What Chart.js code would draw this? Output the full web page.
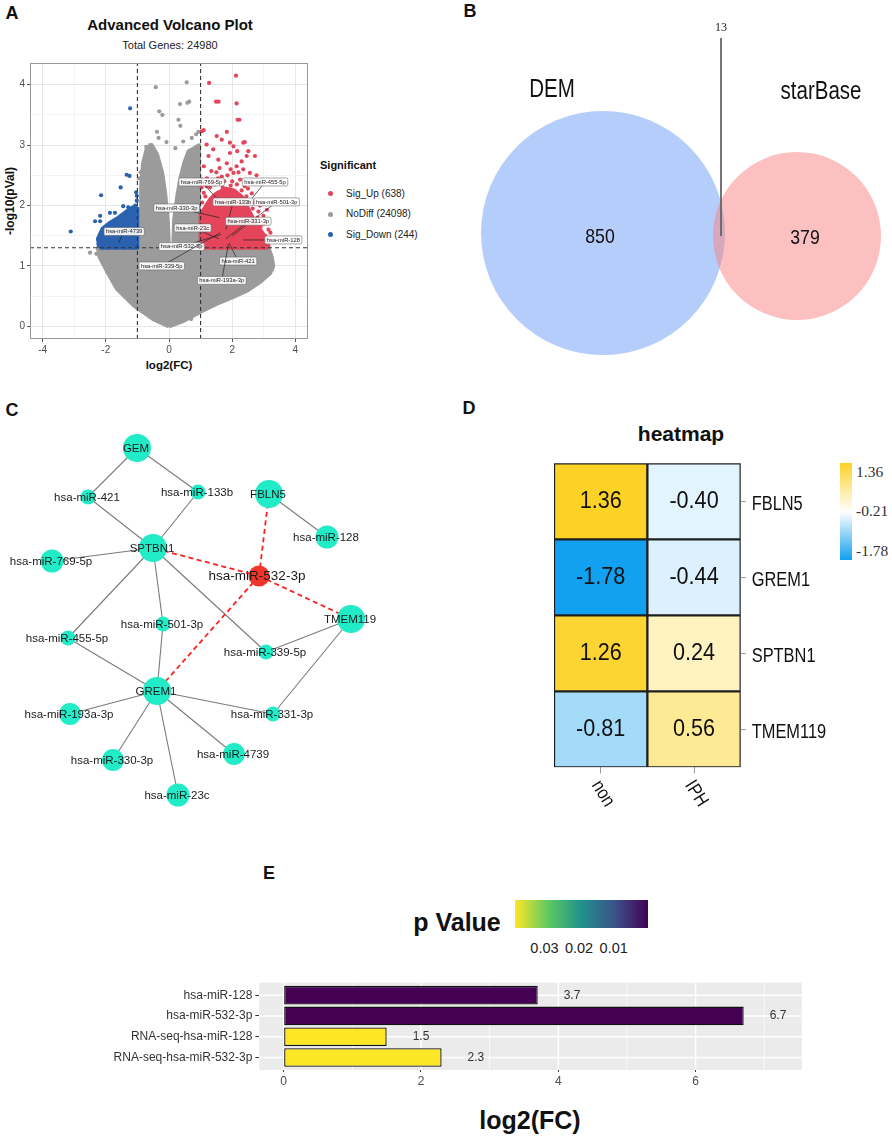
<!DOCTYPE html>
<html>
<head>
<meta charset="utf-8">
<script src="https://cdn.jsdelivr.net/npm/chart.js@4.4.1/dist/chart.umd.min.js"></script>
<style>
  body { margin: 0; width: 892px; height: 1138px; position: relative; overflow: hidden; background: #fff;
         font-family: "Liberation Sans", Arial, sans-serif; color: #111; }
  canvas { position: absolute; }
  .t { position: absolute; white-space: nowrap; transform: translate(-50%, -50%); line-height: 1; }
  .tl { position: absolute; white-space: nowrap; transform: translateY(-50%); line-height: 1; }
  .b { font-weight: bold; }
  .letter { font-weight: bold; font-size: 18px; }
  .serif { font-family: "Liberation Serif", "Times New Roman", serif; color: #333; }
</style>
</head>
<body>
<!-- panel letters and titles -->
<div class="t letter" style="left:12px;top:13px">A</div>
<div class="t letter" style="left:470px;top:11px">B</div>
<div class="t letter" style="left:12px;top:410px">C</div>
<div class="t letter" style="left:469px;top:408px">D</div>
<div class="t letter" style="left:269px;top:873px">E</div>

<div class="t b" style="left:170px;top:24px;font-size:15px">Advanced Volcano Plot</div>
<div class="t" id="totA" style="left:170px;top:45px;font-size:11px;color:#222"></div>
<div class="t b" style="left:10px;top:201px;font-size:12px;transform:translate(-50%,-50%) rotate(-90deg)">-log10(pVal)</div>
<div class="t b" style="left:169px;top:366px;font-size:11.5px">log2(FC)</div>
<div class="tl b" style="left:320px;top:165px;font-size:11px">Significant</div>
<div id="legA"></div>

<div class="t b" style="left:681px;top:433px;font-size:21px">heatmap</div>
<div style="position:absolute;left:840px;top:463px;width:12px;height:97px;background:linear-gradient(to bottom, rgb(252,210,38), #ffffff, rgb(18,160,240))"></div>
<div id="legD"></div>

<div class="t b" style="left:457px;top:922px;font-size:25px">p Value</div>
<div style="position:absolute;left:515px;top:900px;width:133px;height:28px;background:linear-gradient(to right, #fde725, #5ec962, #21918c, #3b528b, #440154)"></div>
<div id="legE"></div>
<div class="t b" style="left:530px;top:1120px;font-size:25px">log2(FC)</div>

<canvas id="cA" width="312" height="315" style="left:0;top:55px"></canvas>
<canvas id="cB" width="442" height="365" style="left:450px;top:0"></canvas>
<canvas id="cC" width="430" height="420" style="left:0;top:400px"></canvas>
<canvas id="cD" width="452" height="440" style="left:440px;top:400px"></canvas>
<canvas id="cE" width="892" height="178" style="left:0;top:960px"></canvas>

<script>
// ---------- A: volcano ----------
const volcanoGroups = ['Sig_Up', 'NoDiff', 'Sig_Down'];
const volcanoCounts = [638, 24098, 244];
const totalGenes = 24980;
const fcCut = 1;
const pCut = 1.3;
// edge of the solid NoDiff cloud [log2FC, -log10 p]
const noDiffOutline = [[0,0],[0.5,0.1],[1.0,0.24],[1.5,0.37],[2.0,0.48],[2.5,0.6],[2.9,0.74],[3.2,0.88],[3.3,1.0],
  [3.25,1.15],[3.15,1.3],[0.95,1.3],[0.95,3.0],[0.8,2.95],[0.62,2.9],[0.48,2.7],[0.36,2.45],[0.26,2.15],[0.16,1.75],
  [0.13,1.2],[0.11,0.7],[0.08,0.48],[0.04,0.65],[0.01,1.2],[-0.04,1.75],[-0.12,2.2],[-0.22,2.55],[-0.38,2.85],
  [-0.55,3.0],[-0.7,2.95],[-0.82,2.7],[-0.88,2.35],[-0.88,1.3],[-2.25,1.3],[-2.2,1.15],[-1.95,0.9],[-1.65,0.62],
  [-1.1,0.34],[-0.5,0.12],[0,0]];
const upOutline = [[1.0,1.3],[3.1,1.3],[3.12,1.42],[2.95,1.55],[2.75,1.7],[2.6,1.85],[2.45,2.0],[2.3,2.15],[2.05,2.25],
  [1.8,2.28],[1.5,2.2],[1.3,2.1],[1.12,1.95],[1.0,1.85],[1.0,1.3]];
const downOutline = [[-2.2,1.3],[-1.0,1.3],[-1.0,1.95],[-1.15,1.97],[-1.35,1.9],[-1.6,1.8],[-1.85,1.72],[-2.1,1.62],
  [-2.25,1.45],[-2.2,1.3]];
const noDiffPts = [[0.56,4.04],[-0.42,3.96],[-0.31,3.56],[-0.21,3.5],[0.35,3.68],[0.64,3.72],[0.58,3.7],[0.3,3.42],
  [0.36,3.32],[-0.38,3.22],[-0.33,3.12],[-0.6,3.0],[-0.72,2.97],[0.72,3.12],[0.86,3.18],[0.93,3.22],[0.45,3.06],
  [0.2,2.95],[-0.08,3.05],[-0.9,2.55],[-0.95,2.45],[-2.5,1.22],[3.09,0.89],[3.2,0.92],[3.27,0.95],[3.05,0.82],
  [-1.13,0.37],[-1.25,0.42],[0.7,0.12],[-2.3,1.2]];
const upPts = [[1.27,4.03],[2.12,4.15],[1.49,3.72],[1.57,3.72],[2.14,3.69],[2.17,3.42],[2.23,3.42],[1.04,3.23],
  [1.1,3.25],[1.51,3.15],[1.83,3.22],[2.35,3.04],[2.4,3.05],[2.04,2.98],[1.93,3.04],[1.67,3.09],[1.19,3.01],[1.4,2.93],
  [1.93,2.87],[2.16,2.9],[2.46,2.82],[2.72,2.82],[2.51,2.9],[1.25,2.82],[1.56,2.76],[1.83,2.7],[2.14,2.65],[2.3,2.73],
  [2.77,2.5],[2.56,2.54],[1.1,2.65],[1.34,2.57],[1.04,2.43],[3.1,1.93],[2.99,1.83],[3.15,1.6],[3.21,1.55],[3.15,1.33],
  [2.99,1.36],[2.88,1.44],[2.77,1.55],[2.67,1.77],[2.51,1.88],[2.88,2.0],[1.1,2.21],[1.19,2.32],[1.4,2.4],[1.67,2.48],
  [2.04,2.54],[2.25,2.43],[2.4,2.32],[2.62,2.2],[2.7,2.05],[1.6,2.62],[1.95,2.6],[2.6,2.4],[3.0,1.7],[1.03,2.3],[2.83,1.9],
  [1.05,2.05],[1.15,2.15],[1.3,2.3],[1.45,2.35],[1.55,2.45],[1.75,2.4],[1.85,2.5],[2.0,2.4],[2.15,2.35],[2.3,2.25],
  [2.45,2.15],[2.55,2.05],[2.65,1.95],[2.8,1.8],[2.9,1.65],[3.05,1.5],[1.2,2.45],[1.5,2.55],[2.2,2.55],[2.35,2.6],
  [1.7,2.3],[1.95,2.33],[2.5,2.28]];
const downPts = [[-1.23,3.61],[-1.34,2.51],[-1.25,2.49],[-1.53,2.3],[-2.15,2.17],[-1.04,2.22],[-1.02,2.16],[-1.02,2.08],
  [-1.07,2.0],[-3.11,1.57],[-2.18,1.74],[-2.34,1.74],[-2.18,1.83],[-1.87,1.88],[-1.71,1.88],[-1.45,1.99],[-1.29,1.97],
  [-1.18,1.92],[-2.18,1.49],[-2.23,1.36],[-2.07,1.33]];
const markedMirs = ['hsa-miR-769-5p','hsa-miR-455-5p','hsa-miR-133b','hsa-miR-501-3p','hsa-miR-330-3p','hsa-miR-331-3p',
  'hsa-miR-23c','hsa-miR-128','hsa-miR-532-3p','hsa-miR-339-5p','hsa-miR-421','hsa-miR-193a-3p','hsa-miR-4739'];
const markedAt = [[1.55,2.1],[2.6,2.1],[1.8,1.6],[2.0,1.5],[1.6,1.8],[1.8,1.45],[1.58,1.45],[2.35,1.43],[1.65,1.52],
  [1.62,1.55],[1.9,1.38],[1.88,1.36],[-1.6,1.38]];

// label boxes placement (data units)
const boxAt = [[1.03,2.39],[3.04,2.39],[2.03,2.06],[3.41,2.06],[0.24,1.96],[2.51,1.74],[0.75,1.63],[3.62,1.43],
  [0.4,1.32],[-0.23,1.0],[2.19,1.08],[1.67,0.76],[-1.42,1.57]];

// ---------- B: venn ----------
const vennSets = ['DEM', 'starBase'];
const vennOnly = [850, 379];
const vennShared = 13;

// ---------- C: network ----------
const netNodes = ['GEM','hsa-miR-421','hsa-miR-133b','SPTBN1','hsa-miR-769-5p','hsa-miR-501-3p','hsa-miR-455-5p',
  'GREM1','FBLN5','hsa-miR-128','hsa-miR-532-3p','TMEM119','hsa-miR-339-5p','hsa-miR-331-3p','hsa-miR-193a-3p',
  'hsa-miR-330-3p','hsa-miR-4739','hsa-miR-23c'];
const netLinks = [['GEM','hsa-miR-421'],['GEM','hsa-miR-133b'],['hsa-miR-421','SPTBN1'],['hsa-miR-133b','SPTBN1'],
  ['SPTBN1','hsa-miR-769-5p'],['SPTBN1','hsa-miR-455-5p'],['SPTBN1','hsa-miR-501-3p'],['SPTBN1','hsa-miR-339-5p'],
  ['FBLN5','hsa-miR-128'],['hsa-miR-455-5p','GREM1'],['hsa-miR-501-3p','GREM1'],['GREM1','hsa-miR-193a-3p'],
  ['GREM1','hsa-miR-330-3p'],['GREM1','hsa-miR-23c'],['GREM1','hsa-miR-4739'],['GREM1','hsa-miR-331-3p'],
  ['TMEM119','hsa-miR-339-5p'],['TMEM119','hsa-miR-331-3p']];
const keyMir = 'hsa-miR-532-3p';
const keyLinks = [[keyMir,'SPTBN1'],[keyMir,'FBLN5'],[keyMir,'TMEM119'],[keyMir,'GREM1']];
// drawing layout: node centre (px on the page) and radius
const nodeXY = {'GEM':[137,448],'hsa-miR-421':[88,497],'hsa-miR-133b':[198,492],'SPTBN1':[153,548],
  'hsa-miR-769-5p':[52,561],'hsa-miR-501-3p':[163,624],'hsa-miR-455-5p':[68,638],'GREM1':[157,691],'FBLN5':[269,494],
  'hsa-miR-128':[327,537],'hsa-miR-532-3p':[259,576],'TMEM119':[351,619],'hsa-miR-339-5p':[266,652],
  'hsa-miR-331-3p':[273,714],'hsa-miR-193a-3p':[70,714],'hsa-miR-330-3p':[113,760],'hsa-miR-4739':[234,754],
  'hsa-miR-23c':[178,795]};
const nodeR = {'GEM':14,'hsa-miR-421':7.5,'hsa-miR-133b':7.5,'SPTBN1':14,'hsa-miR-769-5p':11.5,'hsa-miR-501-3p':7.5,
  'hsa-miR-455-5p':7.5,'GREM1':14,'FBLN5':14,'hsa-miR-128':11.5,'hsa-miR-532-3p':10.5,'TMEM119':14,
  'hsa-miR-339-5p':7.5,'hsa-miR-331-3p':7.5,'hsa-miR-193a-3p':11,'hsa-miR-330-3p':11,'hsa-miR-4739':11,'hsa-miR-23c':11.5};

// ---------- D: heatmap ----------
const hmGroups = ['non', 'IPH'];
const hmGenes = ['FBLN5', 'GREM1', 'SPTBN1', 'TMEM119'];
const hmNon = [1.36, -1.78, 1.26, -0.81];
const hmIPH = [-0.40, -0.44, 0.24, 0.56];

// ---------- E: bars ----------
const feNames = ['hsa-miR-128', 'hsa-miR-532-3p', 'RNA-seq-hsa-miR-128', 'RNA-seq-hsa-miR-532-3p'];
const feLog2FC = [3.7, 6.7, 1.5, 2.3];
const fePValue = [0.0001, 0.0001, 0.0385, 0.0384];
const feLegendTicks = [0.03, 0.02, 0.01];

// ================= helpers =================
Chart.defaults.font.family = '"Liberation Sans", Arial, sans-serif';
Chart.defaults.animation = false;
Chart.defaults.responsive = false;
Chart.defaults.events = [];
Chart.defaults.layout.autoPadding = false;
Chart.defaults.plugins.legend.display = false;
Chart.defaults.plugins.tooltip.enabled = false;

const GREY = '#9b9b9b', RED = '#e5455a', BLUE = '#2b62b0';
const pts = a => a.map(p => ({ x: p[0], y: p[1] }));
const lerp = (a, b, t) => Math.round(a + (b - a) * t);
const mix = (c1, c2, t) => `rgb(${lerp(c1[0], c2[0], t)},${lerp(c1[1], c2[1], t)},${lerp(c1[2], c2[2], t)})`;

function narrowText(ctx, text, x, y, px, sx, align, weight) {
  ctx.save();
  ctx.translate(x, y);
  ctx.scale(sx, 1);
  ctx.font = (weight || '') + ' ' + px + 'px "Liberation Sans", Arial, sans-serif';
  ctx.textAlign = align || 'center';
  ctx.textBaseline = 'middle';
  ctx.fillText(text, 0, 0);
  ctx.restore();
}

// ================= A =================
document.getElementById('totA').textContent = 'Total Genes: ' + totalGenes;
const legColors = [RED, GREY, BLUE];
document.getElementById('legA').innerHTML = volcanoGroups.map((g, i) => {
  const y = 193.5 + 20.5 * i;
  return `<div style="position:absolute;left:327.5px;top:${y - 2.5}px;width:5px;height:5px;border-radius:50%;background:${legColors[i]}"></div>` +
    `<div class="tl" style="left:346px;top:${y}px;font-size:10px;color:#222">${g} (${volcanoCounts[i]})</div>`;
}).join('');

const xMin = -4.4, xMax = 4.4, yMin = -0.21, yMax = 4.36;
const blob = (a, c, o) => ({ data: pts(a), showLine: true, fill: 'shape', backgroundColor: c, borderColor: c,
  borderWidth: 4, borderJoinStyle: 'round', pointRadius: 0, order: o });
const dots = (a, c, o) => ({ data: pts(a), backgroundColor: c, borderWidth: 0, pointRadius: 2.1, order: o });
const cut = a => ({ data: pts(a), showLine: true, borderColor: '#333', borderWidth: 1.1, borderDash: [4, 3],
  pointRadius: 0, order: 1 });
const majorGrid = c => (c.tick && c.tick.value % 2 === 0 ? '#e6e6e6' : '#f3f3f3');

const volcanoMarks = {
  id: 'volcanoMarks',
  afterDatasetsDraw(chart) {
    const { ctx, scales: { x, y } } = chart;
    ctx.save();
    ctx.font = '5.8px "Liberation Sans", Arial, sans-serif';
    markedMirs.forEach((name, i) => {
      const px = x.getPixelForValue(markedAt[i][0]), py = y.getPixelForValue(markedAt[i][1]);
      const bx = x.getPixelForValue(boxAt[i][0]), by = y.getPixelForValue(boxAt[i][1]);
      ctx.strokeStyle = '#222';
      ctx.lineWidth = 0.7;
      ctx.beginPath(); ctx.moveTo(px, py); ctx.lineTo(bx, by); ctx.stroke();
      const w = ctx.measureText(name).width + 4, h = 8;
      ctx.beginPath();
      ctx.roundRect(bx - w / 2, by - h / 2, w, h, 1.5);
      ctx.fillStyle = 'rgba(255,255,255,0.9)';
      ctx.fill();
      ctx.strokeStyle = '#666';
      ctx.lineWidth = 0.6;
      ctx.stroke();
      ctx.fillStyle = '#222';
      ctx.textAlign = 'center';
      ctx.textBaseline = 'middle';
      ctx.fillText(name, bx, by + 0.3);
    });
    ctx.restore();
  },
  afterDraw(chart) {
    const { ctx, chartArea: a } = chart;
    ctx.save();
    ctx.strokeStyle = '#999';
    ctx.lineWidth = 1;
    ctx.strokeRect(a.left + 0.5, a.top + 0.5, a.right - a.left - 1, a.bottom - a.top - 1);
    ctx.restore();
  }
};

new Chart(document.getElementById('cA'), {
  type: 'scatter',
  data: {
    datasets: [
      blob(noDiffOutline, GREY, 6),
      blob(upOutline, RED, 5),
      blob(downOutline, BLUE, 5),
      dots(noDiffPts, GREY, 4),
      dots(upPts, RED, 3),
      dots(downPts, BLUE, 3),
      cut([[-fcCut, yMin], [-fcCut, yMax]]),
      cut([[fcCut, yMin], [fcCut, yMax]]),
      cut([[xMin, pCut], [xMax, pCut]])
    ]
  },
  options: {
    layout: { padding: { top: 8, right: 4, left: 0, bottom: 0 } },
    scales: {
      x: {
        type: 'linear', min: xMin, max: xMax,
        afterBuildTicks: s => { s.ticks = [-4, -3, -2, -1, 0, 1, 2, 3, 4].map(v => ({ value: v })); },
        afterFit: s => { s.height = 31; },
        ticks: { autoSkip: false, maxRotation: 0, padding: 2, color: '#4d4d4d', font: { size: 10 },
          callback: v => (v % 2 === 0 ? String(v) : '') },
        grid: { color: majorGrid, tickLength: 3,
          tickColor: c => (c.tick && c.tick.value % 2 === 0 ? '#555' : 'rgba(0,0,0,0)') },
        border: { display: false }
      },
      y: {
        type: 'linear', min: yMin, max: yMax,
        afterBuildTicks: s => { s.ticks = [0, 0.5, 1, 1.5, 2, 2.5, 3, 3.5, 4].map(v => ({ value: v })); },
        afterFit: s => { s.width = 30; },
        ticks: { autoSkip: false, padding: 2, color: '#4d4d4d', font: { size: 10 },
          callback: v => (Number.isInteger(v) ? String(v) : '') },
        grid: { color: c => (c.tick && Number.isInteger(c.tick.value) ? '#e6e6e6' : '#f3f3f3'), tickLength: 3,
          tickColor: c => (c.tick && Number.isInteger(c.tick.value) ? '#555' : 'rgba(0,0,0,0)') },
        border: { display: false }
      }
    }
  },
  plugins: [volcanoMarks]
});

// ================= B =================
const vennText = {
  id: 'vennText',
  afterDatasetsDraw(chart) {
    const { ctx, scales: { x, y } } = chart;
    ctx.save();
    ctx.fillStyle = '#111';
    narrowText(ctx, vennSets[0], x.getPixelForValue(552), y.getPixelForValue(90), 25, 0.82);
    narrowText(ctx, vennSets[1], x.getPixelForValue(821), y.getPixelForValue(92), 25, 0.82);
    narrowText(ctx, String(vennOnly[0]), x.getPixelForValue(600), y.getPixelForValue(237), 21, 0.84);
    narrowText(ctx, String(vennOnly[1]), x.getPixelForValue(805), y.getPixelForValue(238), 21, 0.84);
    ctx.font = '12px "Liberation Serif", "Times New Roman", serif';
    ctx.textAlign = 'center';
    ctx.textBaseline = 'middle';
    ctx.fillStyle = '#222';
    ctx.fillText(String(vennShared), x.getPixelForValue(721), y.getPixelForValue(28));
    ctx.restore();
  }
};
new Chart(document.getElementById('cB'), {
  type: 'bubble',
  data: {
    datasets: [
      { data: [{ x: 797, y: 236, r: 84 }], backgroundColor: 'rgba(249,129,131,0.5)', borderWidth: 0, order: 1, clip: false },
      { data: [{ x: 603, y: 233, r: 122 }], backgroundColor: 'rgba(105,155,245,0.5)', borderWidth: 0, order: 2, clip: false },
      { type: 'scatter', data: [{ x: 721, y: 38 }, { x: 721, y: 236 }], showLine: true, borderColor: '#666',
        borderWidth: 1.8, pointRadius: 0, order: 0 }
    ]
  },
  options: {
    layout: { padding: 0, autoPadding: false },
    scales: {
      x: { type: 'linear', min: 450, max: 892, display: false },
      y: { type: 'linear', min: 0, max: 365, reverse: true, display: false }
    }
  },
  plugins: [vennText]
});

// ================= C =================
const nodePt = n => ({ x: nodeXY[n][0], y: nodeXY[n][1] });
const netNames = {
  id: 'netNames',
  afterDatasetsDraw(chart) {
    const { ctx } = chart;
    const meta = chart.getDatasetMeta(0);
    ctx.save();
    ctx.fillStyle = '#1a1a1a';
    ctx.textAlign = 'center';
    ctx.textBaseline = 'middle';
    netNodes.forEach((n, i) => {
      const el = meta.data[i];
      const big = n === keyMir;
      ctx.font = (big ? 13.5 : 11.5) + 'px "Liberation Sans", Arial, sans-serif';
      ctx.fillText(n, el.x + (big ? -2 : -1), el.y + 0.5);
    });
    ctx.restore();
  }
};
new Chart(document.getElementById('cC'), {
  type: 'scatter',
  data: {
    datasets: [
      { data: netNodes.map(nodePt), pointRadius: netNodes.map(n => nodeR[n]), borderWidth: 0, clip: false,
        backgroundColor: netNodes.map(n => (n === keyMir ? '#f2352a' : '#22ecc8')), order: 0 },
      ...netLinks.map(([a, b]) => ({ data: [nodePt(a), nodePt(b)], showLine: true, borderColor: '#7a7a7a',
        borderWidth: 1.1, pointRadius: 0, order: 2 })),
      ...keyLinks.map(([a, b]) => ({ data: [nodePt(a), nodePt(b)], showLine: true, borderColor: '#ff1f1f',
        borderWidth: 1.8, borderDash: [5, 3.5], pointRadius: 0, order: 1 }))
    ]
  },
  options: {
    layout: { padding: 0, autoPadding: false },
    scales: {
      x: { type: 'linear', min: 0, max: 430, display: false },
      y: { type: 'linear', min: 400, max: 820, reverse: true, display: false }
    }
  },
  plugins: [netNames]
});

// ================= D =================
const hmAll = hmNon.concat(hmIPH);
const hmMax = Math.max(...hmAll), hmMinV = Math.min(...hmAll), hmMid = (hmMax + hmMinV) / 2;
const HM_HI = [252, 210, 38], HM_MID = [255, 255, 255], HM_LO = [18, 160, 240];
function heatColor(v) {
  if (v >= hmMid) return mix(HM_MID, HM_HI, (v - hmMid) / (hmMax - hmMid));
  return mix(HM_MID, HM_LO, (hmMid - v) / (hmMid - hmMinV));
}
document.getElementById('legD').innerHTML = [hmMax, hmMid, hmMinV].map((v, i) =>
  `<div class="tl serif" style="left:856px;top:${[472, 511, 551][i]}px;font-size:15.5px">${v.toFixed(2)}</div>`).join('');

const rowsBottomUp = hmGenes.map((g, i) => i).reverse();
const heatText = {
  id: 'heatText',
  afterDatasetsDraw(chart) {
    const { ctx, chartArea: a, scales: { x, y } } = chart;
    ctx.save();
    ctx.fillStyle = '#111';
    chart.data.datasets.forEach((ds, di) => {
      const g = rowsBottomUp[di];
      chart.getDatasetMeta(di).data.forEach((el, ci) => {
        const v = ci === 0 ? hmNon[g] : hmIPH[g];
        narrowText(ctx, v.toFixed(2), el.x, (el.y + el.base) / 2, 24, 0.9);
      });
    });
    hmGenes.forEach((g, i) => {
      narrowText(ctx, g, a.right + 11, y.getPixelForValue(3.5 - i) + 3, 20, 0.82, 'left');
    });
    hmGroups.forEach((g, i) => {
      ctx.save();
      ctx.translate(x.getPixelForValue(i) - 5, a.bottom + 15);
      ctx.rotate(58 * Math.PI / 180);
      ctx.scale(0.85, 1);
      ctx.font = '19px "Liberation Sans", Arial, sans-serif';
      ctx.textAlign = 'left';
      ctx.textBaseline = 'middle';
      ctx.fillText(g, 0, 0);
      ctx.restore();
    });
    ctx.restore();
  }
};
new Chart(document.getElementById('cD'), {
  type: 'bar',
  data: {
    labels: hmGroups,
    datasets: rowsBottomUp.map(g => ({
      data: [1, 1],
      backgroundColor: [heatColor(hmNon[g]), heatColor(hmIPH[g])],
      borderColor: '#1e1e1e', borderWidth: 1.5, borderSkipped: false,
      barPercentage: 1, categoryPercentage: 1
    }))
  },
  options: {
    layout: { padding: { left: 114, top: 63.3, right: 0, bottom: 0 } },
    scales: {
      x: {
        stacked: true,
        afterFit: s => { s.height = 72.7; },
        ticks: { display: false },
        grid: { offset: false, drawOnChartArea: false, tickLength: 6, tickColor: '#999' },
        border: { display: false }
      },
      y: {
        stacked: true, position: 'right', min: 0, max: 4,
        afterBuildTicks: s => { s.ticks = [0.5, 1.5, 2.5, 3.5].map(v => ({ value: v })); },
        afterFit: s => { s.width = 151.3; },
        ticks: { display: false },
        grid: { drawOnChartArea: false, tickLength: 5, tickColor: '#999' },
        border: { display: false }
      }
    }
  },
  plugins: [heatText]
});

// ================= E =================
const VIR = [[68, 1, 84], [59, 82, 139], [33, 145, 140], [94, 201, 98], [253, 231, 37]];
function viridis(t) {
  t = Math.min(1, Math.max(0, t));
  const k = Math.min(3, Math.floor(t * 4));
  return mix(VIR[k], VIR[k + 1], t * 4 - k);
}
const pMin = Math.min(...fePValue), pMax = Math.max(...fePValue);
const pColor = p => viridis((p - pMin) / (pMax - pMin));
document.getElementById('legE').innerHTML = feLegendTicks.map(p => {
  const left = 648 - (p - pMin) / (pMax - pMin) * 133;
  return `<div class="t" style="left:${left}px;top:948px;font-size:14.5px;color:#222">${p.toFixed(2)}</div>`;
}).join('');

const feGrey = {
  id: 'feGrey',
  beforeDatasetsDraw(chart) {
    const { ctx, chartArea: a, scales: { x, y } } = chart;
    const top = a.top - 2.1, bottom = a.bottom + 2.1;
    ctx.save();
    ctx.fillStyle = '#ebebeb';
    ctx.fillRect(a.left, top, a.right - a.left, bottom - top);
    ctx.strokeStyle = '#fff';
    [1, 3, 5, 7].forEach(v => {
      const px = x.getPixelForValue(v);
      ctx.lineWidth = 0.7;
      ctx.beginPath(); ctx.moveTo(px, top); ctx.lineTo(px, bottom); ctx.stroke();
    });
    [0, 2, 4, 6].forEach(v => {
      const px = x.getPixelForValue(v);
      ctx.lineWidth = 1.4;
      ctx.beginPath(); ctx.moveTo(px, top); ctx.lineTo(px, bottom); ctx.stroke();
    });
    feNames.forEach((n, i) => {
      const py = y.getPixelForValue(i);
      ctx.lineWidth = 1.4;
      ctx.beginPath(); ctx.moveTo(a.left, py); ctx.lineTo(a.right, py); ctx.stroke();
    });
    ctx.restore();
  },
  afterDatasetsDraw(chart) {
    const { ctx, scales: { x, y } } = chart;
    ctx.save();
    ctx.font = '12px "Liberation Sans", Arial, sans-serif';
    ctx.fillStyle = '#333';
    ctx.textAlign = 'center';
    ctx.textBaseline = 'middle';
    feLog2FC.forEach((v, i) => ctx.fillText(String(v), x.getPixelForValue(v + 0.5), y.getPixelForValue(i)));
    ctx.restore();
  }
};
new Chart(document.getElementById('cE'), {
  type: 'bar',
  data: {
    labels: feNames,
    datasets: [{
      data: feLog2FC,
      backgroundColor: fePValue.map(pColor),
      borderColor: '#111', borderWidth: 1.3, borderSkipped: false,
      barPercentage: 0.9, categoryPercentage: 1
    }]
  },
  options: {
    indexAxis: 'y',
    layout: { padding: { top: 24.8, right: 90.3, left: 0, bottom: 0 } },
    scales: {
      x: {
        type: 'linear', min: -0.355, max: 7.545,
        afterBuildTicks: s => { s.ticks = [0, 2, 4, 6].map(v => ({ value: v })); },
        afterFit: s => { s.height = 70.1; },
        ticks: { autoSkip: false, maxRotation: 0, padding: 3, color: '#4d4d4d', font: { size: 12 } },
        grid: { drawOnChartArea: false, tickLength: 4, tickColor: '#333' },
        border: { display: false }
      },
      y: {
        afterFit: s => { s.width = 259.3; },
        ticks: { autoSkip: false, padding: 3, color: '#333', font: { size: 12 } },
        grid: { drawOnChartArea: false, tickLength: 4, tickColor: '#333', offset: false },
        border: { display: false }
      }
    }
  },
  plugins: [feGrey]
});
</script>
</body>
</html>
